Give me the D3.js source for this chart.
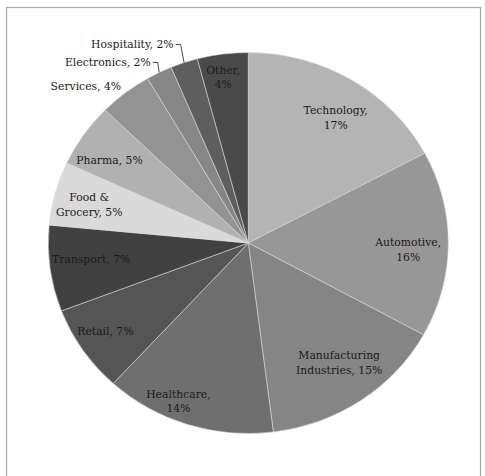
<!DOCTYPE html>
<html>
<head>
<meta charset="utf-8">
<script src="https://cdn.jsdelivr.net/npm/d3@7"></script>
<style>
  html, body { margin: 0; padding: 0; background: #ffffff; }
  svg { display: block; }
  text { font-family: "DejaVu Serif", "Liberation Serif", serif; font-size: 10.8px; fill: #1a1a1a; }
</style>
</head>
<body>
<svg id="chart" width="485" height="476"></svg>
<script>
// Sector shares (percent of total), clockwise from 12 o'clock
const categories = ["Technology", "Automotive", "Manufacturing Industries", "Healthcare", "Retail",
  "Transport", "Food & Grocery", "Pharma", "Services", "Electronics", "Hospitality", "Other"];
const shares = [17.2, 15.8, 15.0, 13.8, 7.4, 7.3, 5.4, 5.4, 4.3, 2.1, 2.2, 4.1];
const shades = ["#b4b4b4", "#979797", "#858585", "#6f6f6f", "#555555", "#414141",
  "#dadada", "#b1b1b1", "#939393", "#878787", "#5e5e5e", "#4a4a4a"];

// How each label is broken into lines ({p} = rounded percentage)
const labelLines = {
  "Technology": ["Technology,", "{p}"],
  "Automotive": ["Automotive,", "{p}"],
  "Manufacturing Industries": ["Manufacturing", "Industries, {p}"],
  "Healthcare": ["Healthcare,", "{p}"],
  "Retail": ["Retail, {p}"],
  "Transport": ["Transport, {p}"],
  "Food & Grocery": ["Food &", "Grocery, {p}"],
  "Pharma": ["Pharma, {p}"],
  "Services": ["Services, {p}"],
  "Electronics": ["Electronics, {p}"],
  "Hospitality": ["Hospitality, {p}"],
  "Other": ["Other,", "{p}"]
};

// Label placement: radius as a fraction of the pie radius, plus an angular nudge (degrees)
const placement = {
  "Technology": [0.79, 2.6], "Automotive": [0.80, 2.2], "Manufacturing Industries": [0.775, -1.7],
  "Healthcare": [0.90, 5.2], "Retail": [0.85, 1.4], "Transport": [0.79, 1.6],
  "Food & Grocery": [0.82, -1.0], "Pharma": [0.82, -2.4], "Services": [1.155, -6.7],
  "Other": [0.88, -0.8]
};
// Labels set outside the pie with a leader line: vertical rise and elbow inset
const leadered = { "Electronics": { dy: -10, inset: 1.5 }, "Hospitality": { dy: -18, inset: 3.5 } };

const cx = 248.3, cy = 243, R = 190.5, sx = 1.05;

const svg = d3.select("#chart");

// plot-area frame
svg.append("rect")
  .attr("x", 6.5).attr("y", 7.5).attr("width", 474).attr("height", 490)
  .attr("fill", "none").attr("stroke", "#a6a6a6").attr("stroke-width", 1.2);

const data = categories.map((c, i) => ({ name: c, value: shares[i], color: shades[i] }));
const total = d3.sum(shares);

const pie = d3.pie().value(d => d.value).sort(null);
const arcs = pie(data);
const arc = d3.arc().innerRadius(0).outerRadius(R);

const g = svg.append("g").attr("transform", `translate(${cx},${cy}) scale(${sx},1)`);
g.selectAll("path.slice")
  .data(arcs)
  .join("path")
  .attr("class", "slice")
  .attr("d", arc)
  .attr("fill", d => d.data.color)
  .attr("stroke", "#d8d8d8")
  .attr("stroke-width", 0.6)
  .attr("vector-effect", "non-scaling-stroke");

// polar (angle clockwise from top) to page coordinates
function toPage(angle, r) {
  return [cx + sx * r * Math.sin(angle), cy - r * Math.cos(angle)];
}

const labels = svg.append("g");
arcs.forEach(a => {
  const name = a.data.name;
  const pct = Math.round(a.data.value / total * 100) + "%";
  const lines = labelLines[name].map(s => s.replace("{p}", pct));
  const mid = (a.startAngle + a.endAngle) / 2;
  if (leadered[name]) {
    const off = leadered[name];
    const edge = toPage(mid, R);
    const yLine = edge[1] + off.dy;
    const xBend = edge[0] - off.inset;
    const xEnd = xBend - 5;
    labels.append("path")
      .attr("d", `M${xEnd},${yLine}H${xBend}L${edge[0]},${edge[1]}`)
      .attr("fill", "none").attr("stroke", "#333").attr("stroke-width", 0.9);
    labels.append("text")
      .attr("x", xEnd - 2).attr("y", yLine + 3.5)
      .attr("text-anchor", "end")
      .text(lines[0]);
    return;
  }
  const [rf, nudge] = placement[name];
  const [px, py] = toPage(mid + nudge * Math.PI / 180, rf * R);
  const lh = 14.5;
  const t = labels.append("text").attr("text-anchor", "middle");
  lines.forEach((ln, i) => {
    t.append("tspan")
      .attr("x", px)
      .attr("y", py + (i - (lines.length - 1) / 2) * lh + 3.8)
      .text(ln);
  });
});
</script>
</body>
</html>
